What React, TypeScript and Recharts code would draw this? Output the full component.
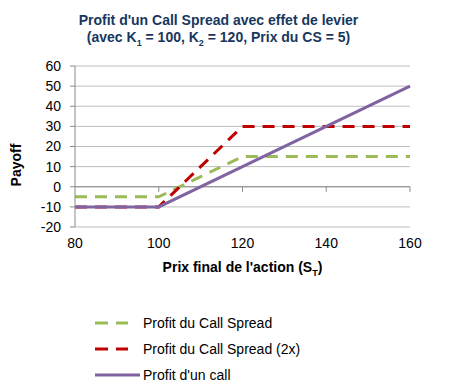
import { LineChart, Line, XAxis, YAxis, CartesianGrid, ReferenceLine } from "recharts";

const prices = [80, 100, 120, 140, 160];
const callSpread = [-5, -5, 15, 15, 15];
const callSpread2x = [-10, -10, 30, 30, 30];
const singleCall = [-10, -10, 10, 30, 50];

const xTicks = [80, 100, 120, 140, 160];
const yTicks = [-20, -10, 0, 10, 20, 30, 40, 50, 60];

const data = prices.map((p, i) => ({
  price: p,
  spread: callSpread[i],
  spread2x: callSpread2x[i],
  call: singleCall[i],
}));

const font = "'Liberation Sans', Arial, sans-serif";
const axisGray = "#898989";

const legendItems = [
  { label: "Profit du Call Spread", color: "#9BBB59", dash: "13 8", len: 33 },
  { label: "Profit du Call Spread (2x)", color: "#C00000", dash: "13 8", len: 33 },
  { label: "Profit d'un call", color: "#8064A2", dash: undefined, len: 45 },
];

const XTitle = (props: any) => {
  const vb = props.viewBox;
  return (
    <text
      x={vb.x + vb.width / 2}
      y={vb.y + 45}
      textAnchor="middle"
      fontFamily={font}
      fontSize={14}
      fontWeight="bold"
      fill="#000"
    >
      Prix final de l'action (S
      <tspan fontSize={9} dy={4}>T</tspan>
      <tspan dy={-4}>)</tspan>
    </text>
  );
};

const YTitle = () => (
  <text
    x={0}
    y={0}
    transform="translate(21,165) rotate(-90)"
    textAnchor="middle"
    fontFamily={font}
    fontSize={14}
    fontWeight="bold"
    fill="#000"
  >
    Payoff
  </text>
);

export default function App() {
  return (
    <div style={{ position: "absolute", left: 0, top: 0, width: 457, height: 390, background: "#fff" }}>
      <div
        style={{
          position: "absolute",
          left: 0,
          top: 12,
          width: 437,
          textAlign: "center",
          fontFamily: font,
          fontSize: 14,
          fontWeight: "bold",
          color: "#17375E",
          lineHeight: "17px",
        }}
      >
        Profit d'un Call Spread avec effet de levier
        <br />
        (avec K<sub style={{ fontSize: 9 }}>1</sub> = 100, K<sub style={{ fontSize: 9 }}>2</sub> = 120, Prix du CS = 5)
      </div>
      <LineChart
        width={457}
        height={390}
        data={data}
        margin={{ top: 66, right: 47, left: 0, bottom: 123 }}
      >
        <CartesianGrid vertical={false} stroke="#BEBEBE" />
        <XAxis
          dataKey="price"
          type="number"
          domain={[80, 160]}
          ticks={xTicks}
          interval={0}
          height={40}
          axisLine={false}
          tickLine={false}
          tickSize={6}
          tickMargin={5}
          tick={{ fontFamily: font, fontSize: 14, fill: "#000" }}
          label={<XTitle />}
        />
        <YAxis
          type="number"
          domain={[-20, 60]}
          ticks={yTicks}
          interval={0}
          width={75}
          axisLine={{ stroke: axisGray }}
          tickLine={{ stroke: axisGray }}
          tickSize={5}
          tickMargin={9}
          tick={{ fontFamily: font, fontSize: 14, fill: "#000" }}
          label={<YTitle />}
        />
        <ReferenceLine y={0} stroke={axisGray} />
        {xTicks.slice(1).map((t) => (
          <ReferenceLine
            key={t}
            segment={[
              { x: t, y: 0 },
              { x: t, y: -2.5 },
            ]}
            stroke={axisGray}
          />
        ))}
        <Line
          dataKey="spread"
          type="linear"
          stroke="#9BBB59"
          strokeWidth={3}
          strokeDasharray="12 8"
          dot={false}
          isAnimationActive={false}
        />
        <Line
          dataKey="spread2x"
          type="linear"
          stroke="#C00000"
          strokeWidth={3}
          strokeDasharray="12 8"
          dot={false}
          isAnimationActive={false}
        />
        <Line
          dataKey="call"
          type="linear"
          stroke="#8064A2"
          strokeWidth={3}
          dot={false}
          isAnimationActive={false}
        />
      </LineChart>
      <div style={{ position: "absolute", left: 95, top: 310, fontFamily: font, fontSize: 14, color: "#000" }}>
        {legendItems.map((it) => (
          <div key={it.label} style={{ display: "flex", alignItems: "center", height: 26 }}>
            <svg width={48} height={6}>
              <line x1={0} y1={3} x2={it.len} y2={3} stroke={it.color} strokeWidth={3} strokeDasharray={it.dash} />
            </svg>
            <span>{it.label}</span>
          </div>
        ))}
      </div>
    </div>
  );
}
